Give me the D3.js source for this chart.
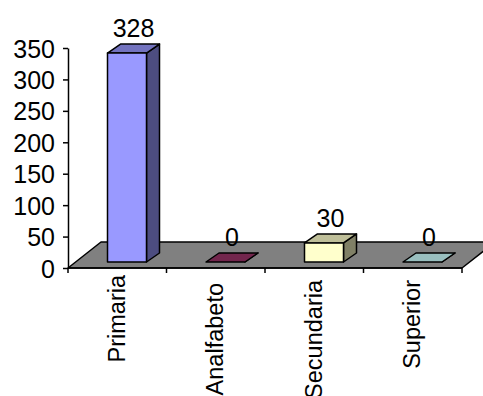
<!DOCTYPE html>
<html lang="es">
<head>
  <meta charset="UTF-8">
  <title>Nivel de instruccion</title>
  <script src="https://d3js.org/d3.v7.min.js"></script>
  <style>
    body { margin: 0; background: #fff; }
    svg { display: block; }
    text { font-family: "Liberation Sans", Arial, sans-serif; fill: #000; }
    .axis path, .axis line { stroke: #000; stroke-width: 1.5; }
    .axis text { font-size: 25px; }
    .value { font-size: 25px; text-anchor: middle; }
    .cat { font-size: 23.5px; text-anchor: end; }
    .face { stroke: #000; stroke-width: 1.5; stroke-linejoin: round; }
  </style>
</head>
<body>
  <script>
    const categories = ["Primaria", "Analfabeto", "Secundaria", "Superior"];
    const values = [328, 0, 30, 0];
    const colors = ["#9999FF", "#993366", "#FFFFCC", "#CCFFFF"];
    const yTicks = [0, 50, 100, 150, 200, 250, 300, 350];

    const width = 483, height = 396;
    const plot = { left: 68, right: 462, top: 48, bottom: 268 };
    const floorDepth = { dx: 33, dy: -26 };
    const barDepth = { dx: 13, dy: -9 };
    const barBase = 262; // bars stand a little behind the front edge of the floor
    const barInset = 39.5, barWidth = 39;

    // rotated labels do not all start at the same height in the original
    const catTop = { Primaria: 275, Analfabeto: 283, Secundaria: 280, Superior: 280 };

    const x = d3.scaleBand().domain(categories).range([plot.left, plot.right]);
    const y = d3.scaleLinear().domain([0, 350]).range([plot.bottom, plot.top]);
    const barY = d3.scaleLinear().domain([0, 350]).range([barBase, barBase - 223]);

    const svg = d3.select("body").append("svg")
      .attr("width", width)
      .attr("height", height);

    const pts = a => a.map(p => p.join(",")).join(" ");

    // floor
    svg.append("polygon")
      .attr("class", "face")
      .attr("fill", "#808080")
      .attr("points", pts([
        [plot.left, plot.bottom],
        [plot.left + floorDepth.dx, plot.bottom + floorDepth.dy],
        [plot.right + floorDepth.dx, plot.bottom + floorDepth.dy],
        [plot.right, plot.bottom]
      ]));

    const bars = svg.append("g")
      .selectAll("g")
      .data(categories.map((c, i) => ({ c, v: values[i], color: colors[i] })))
      .join("g");

    const shade = (color, k) => d3.rgb(color).darker(0).copy({
      r: d3.rgb(color).r * k, g: d3.rgb(color).g * k, b: d3.rgb(color).b * k
    }).formatHex();

    // side face
    bars.append("polygon")
      .attr("class", "face")
      .attr("fill", d => shade(d.color, 0.5))
      .attr("points", d => {
        const r = x(d.c) + barInset + barWidth;
        return pts([
          [r, barBase], [r + barDepth.dx, barBase + barDepth.dy],
          [r + barDepth.dx, barY(d.v) + barDepth.dy], [r, barY(d.v)]
        ]);
      });

    // top face
    bars.append("polygon")
      .attr("class", "face")
      .attr("fill", d => shade(d.color, 0.75))
      .attr("points", d => {
        const l = x(d.c) + barInset, t = barY(d.v);
        return pts([
          [l, t], [l + barDepth.dx, t + barDepth.dy],
          [l + barWidth + barDepth.dx, t + barDepth.dy], [l + barWidth, t]
        ]);
      });

    // front face
    bars.filter(d => d.v > 0).append("rect")
      .attr("class", "face")
      .attr("fill", d => d.color)
      .attr("x", d => x(d.c) + barInset)
      .attr("y", d => barY(d.v))
      .attr("width", barWidth)
      .attr("height", d => barBase - barY(d.v));

    bars.append("text")
      .attr("class", "value")
      .attr("x", d => x(d.c) + barInset + 26)
      .attr("y", d => barY(d.v) + barDepth.dy - 7)
      .text(d => d.v);

    // axes
    svg.append("g")
      .attr("class", "axis")
      .attr("transform", `translate(${plot.left},0)`)
      .call(d3.axisLeft(y).tickValues(yTicks).tickSize(5).tickSizeOuter(0).tickPadding(8))
      .selectAll("text").attr("dy", "0.36em");

    const xAxis = svg.append("g")
      .attr("class", "axis")
      .attr("transform", `translate(0,${plot.bottom})`);
    xAxis.append("path").attr("d", `M${plot.left},0H${plot.right}`);
    xAxis.selectAll("line")
      .data([...categories.map(c => x(c)), plot.right])
      .join("line")
      .attr("x1", d => d).attr("x2", d => d)
      .attr("y1", 0).attr("y2", 5);

    svg.append("g")
      .selectAll("text")
      .data(categories)
      .join("text")
      .attr("class", "cat")
      .attr("transform", d => `translate(${x(d) + x.bandwidth() / 2 + 7.5},${catTop[d]}) rotate(-90)`)
      .text(d => d);
  </script>
</body>
</html>
